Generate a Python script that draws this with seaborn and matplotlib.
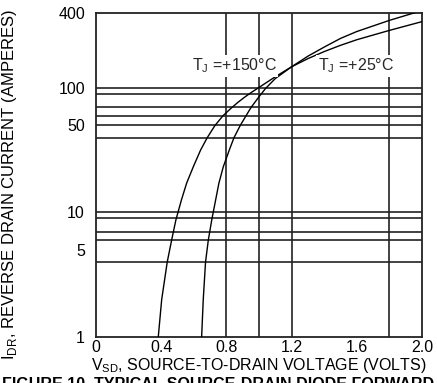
import matplotlib
matplotlib.use("Agg")
import matplotlib.pyplot as plt
import seaborn as sns
import pandas as pd

# ---- data ----
v_150 = [0.382, 0.403, 0.437, 0.464, 0.490, 0.524, 0.556, 0.597, 0.642, 0.683,
         0.730, 0.780, 0.830, 0.870, 0.910, 0.950, 1.000, 1.100, 1.200, 1.300,
         1.400, 1.500, 1.600, 1.800, 2.000]
i_150 = [1, 2, 4, 6, 8.7, 12.6, 17.2, 23.3, 31.8, 40,
         50, 60, 69, 76.5, 84, 91.5, 101, 123, 148, 172,
         196, 220, 244, 290, 341]
v_25 = [0.648, 0.658, 0.672, 0.689, 0.710, 0.754, 0.781, 0.818, 0.847, 0.885,
        0.921, 0.952, 1.000, 1.040, 1.100, 1.200, 1.300, 1.400, 1.500, 1.600,
        1.800, 1.950, 2.000]
i_25 = [1, 2, 4, 6, 8.7, 17.2, 23.3, 31.8, 40, 50,
        60, 70, 85, 99, 119, 148, 180, 213, 250, 284,
        349, 400, 418]
x_ticks = [0, 0.4, 0.8, 1.2, 1.6, 2.0]
x_tick_labels = ["0", "0.4", "0.8", "1.2", "1.6", "2.0"]
y_ticks = [1, 5, 10, 50, 100, 400]
y_tick_labels = ["1", "5", "10", "50", "100", "400"]
grid_x = [0.8, 1.0, 1.2, 1.8]
grid_y = [4, 6, 7, 9, 10, 40, 50, 60, 70, 90, 100]
label_150 = "T$_\\mathregular{J}$ =+150°C"
label_25 = "T$_\\mathregular{J}$ =+25°C"

df = pd.concat([
    pd.DataFrame({"V": v_150, "I": i_150, "T": "150"}),
    pd.DataFrame({"V": v_25, "I": i_25, "T": "25"}),
])

sns.set_theme(style="white")
plt.rcParams["font.family"] = ["Liberation Sans", "DejaVu Sans"]
plt.rcParams["mathtext.fontset"] = "custom"
plt.rcParams["mathtext.rm"] = "Liberation Sans"

fig = plt.figure(figsize=(4.37, 3.83), dpi=100)
ax = fig.add_axes([96 / 437, 1 - 337 / 383, (422 - 96) / 437, (337 - 13) / 383])

for gx in grid_x:
    ax.axvline(gx, color="#222222", lw=1.2, zorder=1)
for gy in grid_y:
    ax.axhline(gy, color="#222222", lw=1.2, zorder=1)

sns.lineplot(data=df, x="V", y="I", units="T", estimator=None, color="black",
             lw=1.0, ax=ax, sort=False, zorder=3)

ax.set_yscale("log")
ax.set_xlim(0, 2.0)
ax.set_ylim(1, 400)
ax.set_xticks(x_ticks)
ax.set_xticklabels(x_tick_labels)
ax.set_yticks(y_ticks)
ax.set_yticklabels(y_tick_labels)
ax.minorticks_off()
ax.tick_params(axis="both", length=0, labelsize=11.5, colors="black")
ax.tick_params(axis="x", pad=2)
ax.tick_params(axis="y", pad=8)
for s in ax.spines.values():
    s.set_color("#222222")
    s.set_linewidth(1.3)
    s.set_visible(True)

ax.set_xlabel("V$_\\mathregular{SD}$, SOURCE-TO-DRAIN VOLTAGE (VOLTS)", fontsize=11.5,
              color="black", labelpad=1)
ax.set_ylabel("I$_\\mathregular{DR}$, REVERSE DRAIN CURRENT (AMPERES)", fontsize=12,
              color="black")
ax.yaxis.set_label_coords(-0.235, 0.47)

ax.text(0.847, 150, label_150, fontsize=11.5, ha="center", va="center", zorder=4,
        bbox=dict(facecolor="white", edgecolor="none", pad=1))
ax.text(1.595, 150, label_25, fontsize=11.5, ha="center", va="center", zorder=4,
        bbox=dict(facecolor="white", edgecolor="none", pad=1))

fig.text(0.004, 6 / 383, "FIGURE 10. TYPICAL SOURCE-DRAIN DIODE FORWARD VOLTAGE",
         fontsize=11.5, fontweight="bold", va="top", ha="left", color="black")

fig.savefig("out.png", dpi=100, facecolor="white")
